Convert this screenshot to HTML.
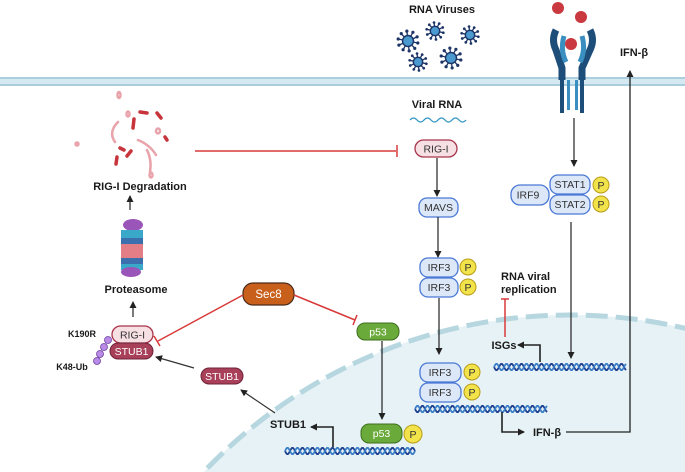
<!DOCTYPE html>
<html><head><meta charset="utf-8"><style>
html,body{margin:0;padding:0;background:#fff;overflow:hidden;}
svg{display:block;font-family:"Liberation Sans",Arial,sans-serif;}
.b{font-weight:bold;font-size:11px;fill:#1a1a1a;}
.pl{font-size:10.5px;fill:#333;}
</style></head><body>
<svg id="s" width="685" height="472" viewBox="0 0 685 472" xmlns="http://www.w3.org/2000/svg">
<defs>
<marker id="ah" markerWidth="8" markerHeight="8" refX="6" refY="4" orient="auto" markerUnits="userSpaceOnUse"><path d="M0,0.5 L7,4 L0,7.5 z" fill="#222"/></marker>
</defs>
<!-- nucleus -->
<circle cx="570" cy="821" r="506" fill="#e6f2f5"/>
<circle cx="570" cy="821" r="506" fill="none" stroke="#b6d6e0" stroke-width="5" stroke-dasharray="22 8"/>
<!-- membrane -->
<rect x="0" y="77" width="685" height="9" fill="#d5e9f3"/>
<line x1="0" y1="78" x2="685" y2="78" stroke="#9cc5d8" stroke-width="1.5"/>
<line x1="0" y1="85" x2="685" y2="85" stroke="#9cc5d8" stroke-width="1.5"/>
<!-- RNA viruses -->
<text x="442" y="13" class="b" text-anchor="middle">RNA Viruses</text>
<g id="vir"></g>
<!-- receptor -->
<circle cx="558" cy="8" r="6" fill="#c9393f"/><circle cx="581" cy="17" r="6" fill="#c9393f"/><circle cx="571" cy="44" r="6" fill="#c9393f"/>
<path d="M556,30 Q551,40 556,50 L562,68 L562,80" stroke="#1d4e7a" stroke-width="7" fill="none"/>
<path d="M590,30 Q595,40 590,50 L582,68 L582,80" stroke="#1d4e7a" stroke-width="7" fill="none"/>
<path d="M564,36 Q560,50 566,62" stroke="#3a8fc0" stroke-width="5" fill="none"/>
<path d="M582,36 Q586,50 580,62" stroke="#3a8fc0" stroke-width="5" fill="none"/>
<rect x="560" y="80" width="4" height="33" fill="#1d4e7a"/><rect x="567" y="80" width="3" height="30" fill="#3a8fc0"/>
<rect x="580" y="80" width="4" height="33" fill="#1d4e7a"/><rect x="575" y="80" width="3" height="30" fill="#3a8fc0"/>
<!-- IFN-b top -->
<text x="634" y="56" class="b" text-anchor="middle">IFN-β</text>
<polyline points="566,432 630,432 630,71" fill="none" stroke="#222" stroke-width="1.3" marker-end="url(#ah)"/>
<!-- Viral RNA -->
<text x="437" y="108" class="b" text-anchor="middle">Viral RNA</text>
<path d="M410,120 q3.5,-4 7,0 t7,0 t7,0 t7,0 t7,0 t7,0 t7,0 t7,0" stroke="#3a9ac4" stroke-width="1.3" fill="none"/>
<!-- RIG-I -->
<rect x="415" y="140" width="42" height="17" rx="8.5" fill="#f6e0e4" stroke="#a8344a" stroke-width="1.3"/>
<text x="436" y="152.5" class="pl" text-anchor="middle">RIG-I</text>
<line x1="195" y1="151" x2="396" y2="151" stroke="#d83a3a" stroke-width="1.5"/>
<line x1="397" y1="145" x2="397" y2="157" stroke="#d83a3a" stroke-width="1.5"/>
<line x1="437" y1="158" x2="437" y2="196" stroke="#222" stroke-width="1.2" marker-end="url(#ah)"/>
<rect x="419" y="198" width="39" height="19" rx="8" fill="#dce7f7" stroke="#4a79d6" stroke-width="1.3"/>
<text x="438.5" y="211" class="pl" text-anchor="middle">MAVS</text>
<line x1="438" y1="217" x2="438" y2="257" stroke="#222" stroke-width="1.2" marker-end="url(#ah)"/>
<!-- IRF3 upper -->
<rect x="420" y="258" width="38" height="19" rx="8" fill="#dce7f7" stroke="#4a79d6" stroke-width="1.3"/>
<rect x="420" y="278" width="38" height="19" rx="8" fill="#dce7f7" stroke="#4a79d6" stroke-width="1.3"/>
<text x="439" y="271" class="pl" text-anchor="middle">IRF3</text><text x="439" y="291" class="pl" text-anchor="middle">IRF3</text>
<circle cx="468" cy="267" r="8" fill="#f2e34a" stroke="#b89c1a"/><circle cx="468" cy="287" r="8" fill="#f2e34a" stroke="#b89c1a"/>
<text x="468" y="271" class="pl" text-anchor="middle">P</text><text x="468" y="291" class="pl" text-anchor="middle">P</text>
<line x1="439" y1="298" x2="439" y2="354" stroke="#222" stroke-width="1.2" marker-end="url(#ah)"/>
<!-- IRF3 lower -->
<rect x="420" y="363" width="41" height="19" rx="8" fill="#dce7f7" stroke="#4a79d6" stroke-width="1.3"/>
<rect x="420" y="383" width="41" height="19" rx="8" fill="#dce7f7" stroke="#4a79d6" stroke-width="1.3"/>
<text x="440" y="376" class="pl" text-anchor="middle">IRF3</text><text x="440" y="396" class="pl" text-anchor="middle">IRF3</text>
<circle cx="472" cy="372" r="8" fill="#f2e34a" stroke="#b89c1a"/><circle cx="472" cy="392" r="8" fill="#f2e34a" stroke="#b89c1a"/>
<text x="472" y="376" class="pl" text-anchor="middle">P</text><text x="472" y="396" class="pl" text-anchor="middle">P</text>
<g id="dna"></g>
<polyline points="502,412 502,432 524,432" fill="none" stroke="#222" stroke-width="1.6" marker-end="url(#ah)"/>
<text x="547" y="436" class="b" text-anchor="middle">IFN-β</text>
<!-- STAT -->
<line x1="574" y1="118" x2="574" y2="166" stroke="#222" stroke-width="1.2" marker-end="url(#ah)"/>
<rect x="511" y="185" width="38" height="20" rx="9" fill="#dce7f7" stroke="#4a79d6" stroke-width="1.3"/>
<text x="528" y="198.5" class="pl" text-anchor="middle">IRF9</text>
<rect x="550" y="175" width="40" height="19" rx="8" fill="#dce7f7" stroke="#4a79d6" stroke-width="1.3"/>
<rect x="550" y="195" width="40" height="19" rx="8" fill="#dce7f7" stroke="#4a79d6" stroke-width="1.3"/>
<text x="570" y="188" class="pl" text-anchor="middle">STAT1</text><text x="570" y="208" class="pl" text-anchor="middle">STAT2</text>
<circle cx="601" cy="185" r="8" fill="#f2e34a" stroke="#b89c1a"/><circle cx="601" cy="204" r="8" fill="#f2e34a" stroke="#b89c1a"/>
<text x="601" y="189" class="pl" text-anchor="middle">P</text><text x="601" y="208" class="pl" text-anchor="middle">P</text>
<line x1="571" y1="222" x2="571" y2="358" stroke="#222" stroke-width="1.2" marker-end="url(#ah)"/>
<polyline points="540,362 540,345 518,345" fill="none" stroke="#222" stroke-width="1.6" marker-end="url(#ah)"/>
<text x="504" y="349" class="b" text-anchor="middle">ISGs</text>
<text x="501" y="280" class="b">RNA viral</text>
<text x="501" y="293" class="b">replication</text>
<line x1="505" y1="337" x2="505" y2="299" stroke="#d83a3a" stroke-width="1.5"/>
<line x1="501" y1="299" x2="509" y2="299" stroke="#d83a3a" stroke-width="1.5"/>
<!-- debris -->
<g stroke="#c8343c" stroke-width="3.5" stroke-linecap="round" fill="none">
<line x1="140" y1="112" x2="147" y2="113"/><line x1="157" y1="113" x2="161" y2="118"/>
<line x1="134" y1="119" x2="133" y2="128"/><line x1="120" y1="148" x2="124" y2="150"/>
<line x1="117" y1="157" x2="116" y2="164"/><line x1="131" y1="151" x2="127" y2="156"/>
<line x1="165" y1="137" x2="167" y2="140"/>
</g>
<g stroke="#e8a3ab" stroke-width="2.5" fill="none" stroke-linecap="round">
<path d="M118,122 Q108,132 115,142"/><path d="M138,140 Q150,145 156,155"/><path d="M147,150 Q152,160 150,172"/>
<ellipse cx="119" cy="95" rx="1.5" ry="3"/><ellipse cx="128" cy="114" rx="1.5" ry="2.5"/><ellipse cx="158" cy="131" rx="2" ry="2.5"/><ellipse cx="77" cy="144" rx="1.5" ry="1.5"/><ellipse cx="151" cy="175" rx="1.5" ry="2.5"/>
</g>
<text x="140" y="190" class="b" text-anchor="middle">RIG-I Degradation</text>
<line x1="130" y1="210" x2="130" y2="196" stroke="#222" stroke-width="1.2" marker-end="url(#ah)"/>
<!-- proteasome -->
<ellipse cx="133" cy="225" rx="10" ry="6" fill="#9a55b8"/>
<rect x="121" y="230" width="22" height="8" fill="#3aa9c9"/><rect x="121" y="238" width="22" height="6" fill="#3c6fae"/>
<rect x="121" y="244" width="22" height="14" fill="#e47e86"/>
<rect x="121" y="258" width="22" height="6" fill="#3c6fae"/><rect x="121" y="264" width="22" height="6" fill="#3aa9c9"/>
<ellipse cx="131" cy="272" rx="10" ry="5" fill="#9a55b8"/>
<text x="136" y="293" class="b" text-anchor="middle">Proteasome</text>
<line x1="133" y1="317" x2="133" y2="302" stroke="#222" stroke-width="1.2" marker-end="url(#ah)"/>
<!-- RIG-I / STUB1 complex -->
<rect x="112" y="326" width="41" height="17" rx="8.5" fill="#f6e0e4" stroke="#a8344a" stroke-width="1.3"/>
<text x="132.5" y="338.5" class="pl" text-anchor="middle">RIG-I</text>
<rect x="110" y="343" width="43" height="16" rx="8" fill="#a8405a" stroke="#6e2238" stroke-width="1"/>
<text x="131.5" y="355" class="pl" text-anchor="middle" style="fill:#fff">STUB1</text>
<g fill="#b98ae6" stroke="#6b3fa0" stroke-width="0.8">
<circle cx="108" cy="340" r="3.5"/><circle cx="104" cy="347" r="3.5"/><circle cx="100" cy="354" r="3.5"/><circle cx="97" cy="361" r="3.5"/>
</g>
<text x="82" y="337" class="b" text-anchor="middle" style="font-size:9px">K190R</text>
<text x="72" y="370" class="b" text-anchor="middle" style="font-size:9px">K48-Ub</text>
<!-- Sec8 -->
<rect x="243" y="283" width="51" height="22" rx="10" fill="#c8601c" stroke="#4a2a1a" stroke-width="1.2"/>
<text x="268.5" y="298" class="pl" text-anchor="middle" style="fill:#fff;font-size:11.5px">Sec8</text>
<line x1="243" y1="295" x2="158" y2="341" stroke="#d83a3a" stroke-width="1.5"/>
<line x1="154" y1="336" x2="160" y2="346" stroke="#d83a3a" stroke-width="1.5"/>
<line x1="294" y1="295" x2="355" y2="320" stroke="#d83a3a" stroke-width="1.5"/>
<line x1="357" y1="315" x2="353" y2="325" stroke="#d83a3a" stroke-width="1.5"/>
<rect x="357" y="323" width="42" height="17" rx="8" fill="#6aaa3a" stroke="#3d6e1e" stroke-width="1"/>
<text x="378" y="335.5" class="pl" text-anchor="middle" style="fill:#fff">p53</text>
<!-- STUB1 middle -->
<rect x="201" y="368" width="42" height="16" rx="8" fill="#a8405a" stroke="#6e2238" stroke-width="1"/>
<text x="222" y="380" class="pl" text-anchor="middle" style="fill:#fff">STUB1</text>
<line x1="194" y1="368" x2="156" y2="357" stroke="#333" stroke-width="1.2" marker-end="url(#ah)"/>
<line x1="275" y1="413" x2="241" y2="390" stroke="#333" stroke-width="1.2" marker-end="url(#ah)"/>
<!-- p53 P -->
<line x1="382" y1="341" x2="382" y2="419" stroke="#222" stroke-width="1.2" marker-end="url(#ah)"/>
<rect x="361" y="424" width="41" height="19" rx="8" fill="#6aaa3a" stroke="#3d6e1e" stroke-width="1"/>
<text x="381.5" y="437" class="pl" text-anchor="middle" style="fill:#fff">p53</text>
<circle cx="413" cy="434" r="9" fill="#f2e34a" stroke="#b89c1a"/>
<text x="413" y="438" class="pl" text-anchor="middle">P</text>
<polyline points="333,447 333,427 311,427" fill="none" stroke="#222" stroke-width="1.6" marker-end="url(#ah)"/>
<text x="288" y="428" class="b" text-anchor="middle">STUB1</text>
</svg>
<script>
(function(){
var NS="http://www.w3.org/2000/svg";
function el(t,a,p){var e=document.createElementNS(NS,t);for(var k in a)e.setAttribute(k,a[k]);p.appendChild(e);return e;}
var d=document.getElementById("dna");
function helix(x0,x1,y){
 var p1="",p2="";
 for(var x=x0;x<=x1;x+=1){var t=(x-x0)/10*2*Math.PI;var a=y+3.2*Math.sin(t),b=y-3.2*Math.sin(t);
 p1+=(x==x0?"M":"L")+x+","+a.toFixed(2);p2+=(x==x0?"M":"L")+x+","+b.toFixed(2);}
 el("path",{d:p1,stroke:"#1f3f8f","stroke-width":1.8,fill:"none"},d);
 el("path",{d:p2,stroke:"#3a7fc8","stroke-width":1.8,fill:"none"},d);
}
helix(415,547,409);helix(494,626,367);helix(285,415,451);
var v=document.getElementById("vir");
[[408,41,1],[435,31,0.85],[470,35,0.85],[418,62,0.85],[451,58,1]].forEach(function(c){
 var s=c[2];
 for(var i=0;i<10;i++){var a=i*Math.PI/5+0.2;var x2=c[0]+Math.cos(a)*10*s,y2=c[1]+Math.sin(a)*10*s;
  el("line",{x1:c[0],y1:c[1],x2:x2,y2:y2,stroke:"#1d3566","stroke-width":1.3},v);
  el("circle",{cx:x2,cy:y2,r:1.6*s,fill:"#1d3566"},v);}
 el("circle",{cx:c[0],cy:c[1],r:5.5*s,fill:"#4a9ad0",stroke:"#1d3566","stroke-width":1.4},v);
});
})();
</script>
</body></html>
